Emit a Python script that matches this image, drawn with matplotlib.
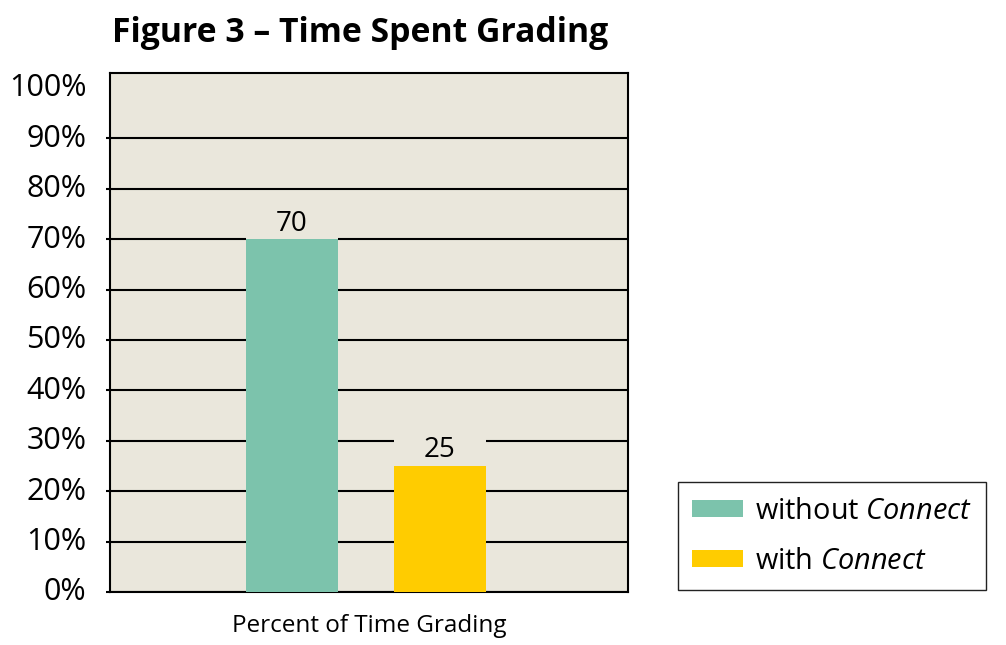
import matplotlib
matplotlib.use("Agg")
import matplotlib.pyplot as plt
from matplotlib.patches import Rectangle
from matplotlib.transforms import ScaledTranslation

# --- data ---
series_names = [r"without $\mathit{Connect}$", r"with $\mathit{Connect}$"]
values = [70, 25]
colors = ["#7CC3AC", "#FFCC00"]
yticks = list(range(0, 101, 10))
ytick_labels = [f"{v}%" for v in yticks]
category = "Percent of Time Grading"
title = "Figure 3 \u2013 Time Spent Grading"

bg = "#EAE7DC"

plt.rcParams["font.family"] = ["Open Sans", "DejaVu Sans"]
plt.rcParams["mathtext.fontset"] = "custom"
plt.rcParams["mathtext.rm"] = "Open Sans"
plt.rcParams["mathtext.it"] = "Open Sans:italic"

fig = plt.figure(figsize=(10.06, 6.45), dpi=100)
ax = fig.add_axes([0.1093, 0.0822, 0.5149, 0.8040])
ax.set_facecolor(bg)

bar_w = 0.62
xs = list(range(len(values)))
bars = ax.bar(xs, values, width=bar_w, color=colors, zorder=3)

# value labels, with a patch hiding the gridline behind the text
for x, v in zip(xs, values):
    ax.add_patch(Rectangle((x - bar_w / 2, v), bar_w, 6.5, facecolor=bg,
                           edgecolor="none", zorder=2))
    ax.text(x, v + 1.7, str(v), ha="center", va="baseline", fontsize=20, zorder=4)

ax.set_xlim(-1.23, 2.27)
ax.set_ylim(0, 102.9)
ax.set_yticks(yticks)
ax.set_yticklabels(ytick_labels, fontsize=22)
ax.set_xticks([])
ax.set_xlabel(category, fontsize=17.5, labelpad=16)

ax.yaxis.grid(True, color="black", linewidth=1.5, zorder=1)
ax.set_axisbelow(True)
ax.get_ygridlines()[-1].set_visible(False)
ax.yaxis.get_major_ticks()[-1].tick1line.set_visible(False)
ax.tick_params(axis="y", direction="out", length=3, width=1.5, pad=14)
shift = ScaledTranslation(0, 2.2 / 72, fig.dpi_scale_trans)
for lbl in ax.get_yticklabels():
    lbl.set_transform(lbl.get_transform() + shift)
for s in ax.spines.values():
    s.set_linewidth(1.5)
    s.set_color("black")

fig.text(0.1113, 0.949, title, fontsize=24.3, fontweight="bold", ha="left", va="center")

leg = fig.legend(bars, series_names, loc="lower left",
                 bbox_to_anchor=(678 / 1006, 1 - 590 / 645), fontsize=20.8,
                 fancybox=False, edgecolor="#222222", framealpha=1,
                 handlelength=1.75, handleheight=0.53, borderpad=0.5,
                 labelspacing=0.72, handletextpad=0.4, borderaxespad=0)
leg.get_frame().set_linewidth(1.0)

fig.savefig("out.png", dpi=100)
